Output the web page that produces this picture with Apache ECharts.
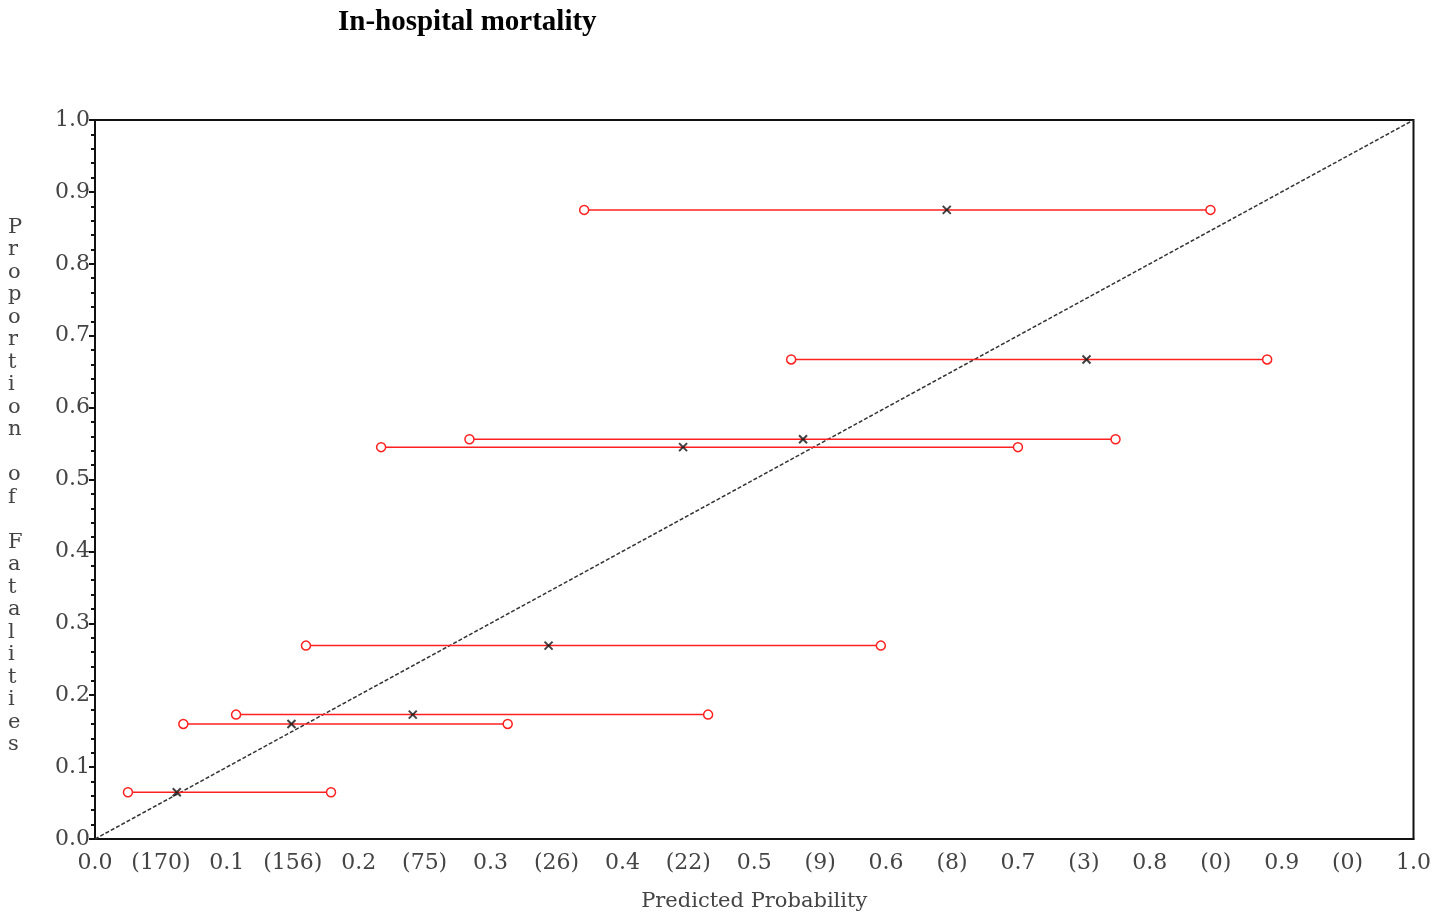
<!DOCTYPE html>
<html>
<head>
<meta charset="utf-8">
<script src="https://cdn.jsdelivr.net/npm/echarts@6/dist/echarts.min.js"></script>
<style>html,body{margin:0;padding:0;background:#fff;}#c{width:1434px;height:919px;}</style>
</head>
<body>
<div id="c"></div>
<script>
// Observed proportion (y) per group, with predicted probability lower, mean, upper (x)
const observed  = [0.875, 0.667, 0.556, 0.545, 0.269, 0.173, 0.160, 0.065];
const lowerPred = [0.371, 0.528, 0.284, 0.217, 0.160, 0.107, 0.067, 0.025];
const meanPred  = [0.646, 0.752, 0.537, 0.446, 0.344, 0.241, 0.149, 0.062];
const upperPred = [0.846, 0.889, 0.774, 0.700, 0.596, 0.465, 0.313, 0.179];
const binCounts = ['(170)','(156)','(75)','(26)','(22)','(9)','(8)','(3)','(0)','(0)'];
const titleText = 'In-hospital mortality';
const yName = 'Proportion of Fatalities';
const xName = 'Predicted Probability';

const chart = echarts.init(document.getElementById('c'));
const serif = 'DejaVu Serif';
const textCol = '#444';

const series = [];
observed.forEach((y, i) => {
  series.push({
    type: 'line',
    data: [[lowerPred[i], y], [upperPred[i], y]],
    symbol: 'circle', symbolSize: 9, showSymbol: true,
    lineStyle: {color: '#ff2020', width: 1.5},
    itemStyle: {color: '#fff', borderColor: '#ff2020', borderWidth: 1.5},
    emphasis: {disabled: true}, silent: true, z: 3
  });
});
series.push({
  type: 'scatter',
  data: observed.map((y, i) => [meanPred[i], y]),
  symbol: 'path://M0,0L10,10M10,0L0,10', symbolSize: 8,
  itemStyle: {color: 'none', borderColor: '#111', borderWidth: 2},
  silent: true, z: 5
});
series.push({
  type: 'line',
  data: [[0, 0], [1, 1]],
  symbol: 'none',
  lineStyle: {color: '#333', width: 1.5, type: [4, 2]},
  silent: true, z: 2
});

chart.setOption({
  animation: false,
  backgroundColor: '#fff',
  grid: {left: 95, right: 13, top: 120, bottom: 80, show: true, borderColor: '#111', borderWidth: 2, backgroundColor: 'transparent'},
  xAxis: {
    type: 'value', min: 0, max: 1, interval: 0.05,
    name: xName, nameLocation: 'middle', nameGap: 52,
    nameTextStyle: {fontFamily: serif, fontSize: 21, color: textCol},
    axisLine: {show: true, lineStyle: {color: '#111', width: 2}},
    axisTick: {show: false},
    splitLine: {show: false},
    axisLabel: {
      fontFamily: serif, fontSize: 22, color: textCol, margin: 13,
      showMinLabel: true, showMaxLabel: true,
      formatter: function (v) {
        const k = Math.round(v / 0.05);
        if (k % 2 === 0) return (k / 20).toFixed(1);
        return binCounts[(k - 1) / 2];
      }
    }
  },
  yAxis: {
    type: 'value', min: 0, max: 1, interval: 0.1,
    axisLine: {show: true, lineStyle: {color: '#111', width: 2}},
    axisTick: {show: true, length: 6, lineStyle: {color: '#111', width: 2}},
    minorTick: {show: true, splitNumber: 5, length: 4, lineStyle: {color: '#111', width: 2}},
    splitLine: {show: false},
    axisLabel: {fontFamily: serif, fontSize: 22, color: textCol, margin: 5,
      formatter: v => v.toFixed(1)}
  },
  graphic: [
    {type: 'text', left: 338, top: 8,
      style: {text: titleText, font: 'bold 29px "Liberation Serif"', fill: '#000'}},
    {type: 'text', left: 8, top: 216,
      style: {text: yName.split('').join('\n'), font: '21px "DejaVu Serif"', fill: textCol,
        lineHeight: 22.5, align: 'center', x: 0}}
  ],
  series: series
});
</script>
</body>
</html>
